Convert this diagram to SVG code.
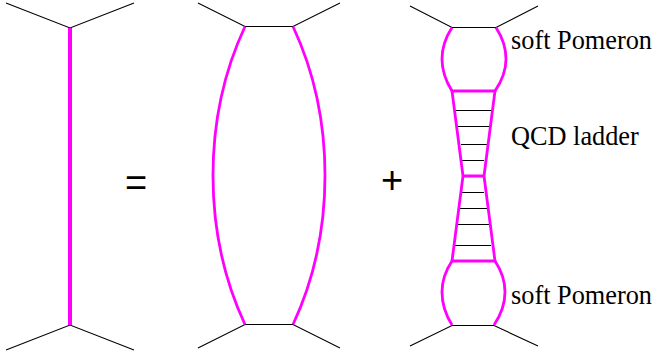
<svg xmlns="http://www.w3.org/2000/svg" width="653" height="360" viewBox="0 0 653 360">
<style>
.k{fill:none;stroke:#000;stroke-width:1.1}
.m{fill:none;stroke:#f0f;stroke-width:2.8}
.v{fill:none;stroke:#f0f;stroke-width:4}
.t{font-family:"Liberation Serif",serif;font-size:26.300px;fill:#000}
.s{font-family:"Liberation Sans",sans-serif;font-size:38px;fill:#000}
</style>
<rect width="653" height="360" fill="#fff"/>
<g id="connectors">
<path class="k" d="M6 3L70 28L134 3M6 350L70 325L134 350"/>
<path class="k" d="M198 3L245 26.500H293L340 3M198 348L245 324.500H293L340 348"/>
<path class="k" d="M410 6L452 27.500H496L538 6M410 346L452 325.500H494L538 346"/>
<path class="k" d="M456 110.500H491M458 126.500H489M461 144.500H487M462 160.500H484M462 192.500H484M460 208.500H487M458 224.500H489M455 245.500H491"/>
</g>
<g id="propagator">
<path class="v" d="M70 28V325"/>
</g>
<g id="two-pomeron">
<path class="m" d="M245 26.500Q213 95 213 175.500Q213 256 245 324.500"/>
<path class="m" d="M293 26.500Q325 95 325 175.500Q325 256 293 324.500"/>
</g>
<g id="top-blob">
<path class="m" d="M452 27.500Q442 43 442 59Q442 75 452 91M496 27.500Q506 43 506 59Q506 75 495 91"/>
</g>
<g id="ladder">
<path class="m" d="M452 91H495L484 176H463ZM463 176H484L495 261H452Z"/>
</g>
<g id="bottom-blob">
<path class="m" d="M452 261Q442 276 442 292Q442 309 452 325M495 261Q505 276 505 292Q505 309 494 325"/>
</g>
<g id="labels">
<text class="t" x="511" y="49">soft Pomeron</text>
<text class="t" x="511" y="145">QCD ladder</text>
<text class="t" x="511" y="304">soft Pomeron</text>
<text class="s" x="125" y="196">=</text>
<text class="s" x="381" y="193">+</text>
</g>
</svg>
